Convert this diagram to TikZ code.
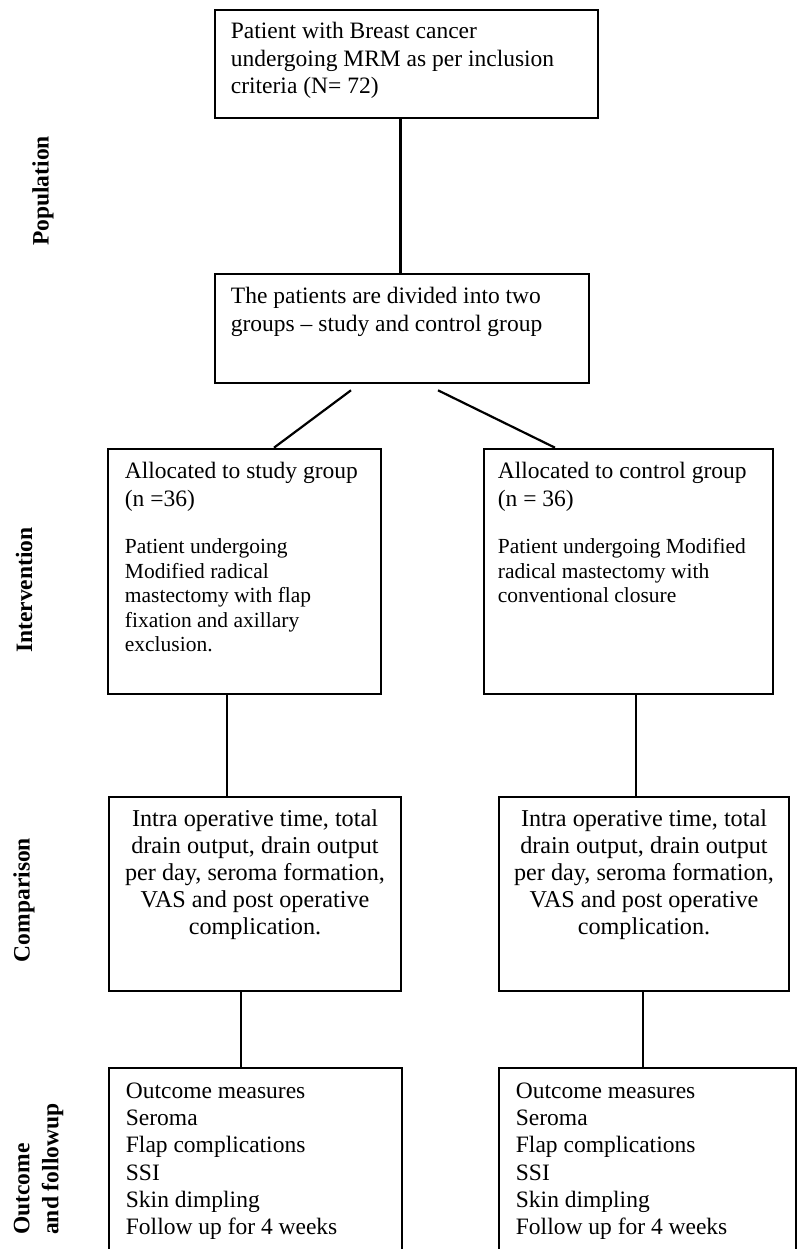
\documentclass[tikz,border=0pt]{standalone}
\usepackage{fontspec}
\setmainfont{Liberation Serif}
\tikzset{
	frame/.style={draw, line width=2.6pt, inner sep=0pt},
	link/.style={line width=2.2pt},
	txt/.style={anchor=base west, inner sep=0pt, align=left, font=\fontsize{23.5}{27.5}\selectfont},
	smalltxt/.style={txt, font=\fontsize{21.5}{24.5}\selectfont},
	side/.style={rotate=90, inner sep=0pt, align=left, font=\fontsize{23.5}{29}\selectfont\bfseries}
}
\begin{document}
\begin{tikzpicture}[x=1pt, y=-1pt]
\useasboundingbox (0,0) rectangle (798,1249);
\clip (0,0) rectangle (798,1249);
% side labels
\node[side] (lPop) at (43,191) {Population};
\node[side] (lInt) at (24,590) {Intervention};
\node[side] (lCmp) at (24,900) {Comparison};
\node[side, anchor=west] (lOut) at (38.5,1235) {Outcome\\and followup};
% boxes (text nodes sit on the baseline of their last line)
\node[frame, minimum width=383, minimum height=108] (top) at (406.5,64) {};
\node[txt] (topText) at ([shift={(17,85)}]top.north west) {Patient with Breast cancer\\undergoing MRM as per inclusion\\criteria (N= 72)};
\node[frame, minimum width=374, minimum height=109] (div) at (402,328.5) {};
\node[txt] (divText) at ([shift={(17,58.5)}]div.north west) {The patients are divided into two\\groups -- study and control group};
\node[frame, minimum width=273, minimum height=245] (study) at (244.5,571.5) {};
\node[txt] (studyHead) at ([shift={(18,58.5)}]study.north west) {Allocated to study group\\(n =36)};
\node[smalltxt] (studyBody) at ([shift={(18,204)}]study.north west) {Patient undergoing\\Modified radical\\mastectomy with flap\\fixation and axillary\\exclusion.};
\node[frame, minimum width=289, minimum height=245] (ctrl) at (628.5,571.5) {};
\node[txt] (ctrlHead) at ([shift={(15,58.5)}]ctrl.north west) {Allocated to control group\\(n = 36)};
\node[smalltxt] (ctrlBody) at ([shift={(15,155)}]ctrl.north west) {Patient undergoing Modified\\radical mastectomy with\\conventional closure};
\foreach \n/\x/\w in {A/255/292, B/644/290} {
	\node[frame, minimum width=\w, minimum height=194] (cmp\n) at (\x,894) {};
	\node[txt, anchor=base, align=center, font=\fontsize{24.2}{27}\selectfont] (cmpText\n) at ([yshift=-139]cmp\n.north) {Intra operative time, total\\drain output, drain output\\per day, seroma formation,\\VAS and post operative\\complication.};
}
\foreach \n/\x/\w in {A/255.5/293, B/647.5/297} {
	\node[frame, minimum width=\w, minimum height=222] (out\n) at (\x,1179) {};
	\node[txt, font=\fontsize{23.5}{27.3}\selectfont] (outText\n) at ([shift={(18,168)}]out\n.north west) {Outcome measures\\Seroma\\Flap complications\\SSI\\Skin dimpling\\Follow up for 4 weeks};
}
% connectors
\coordinate (t1) at ([xshift=-6]top.south);
\draw[link] (t1) -- (t1 |- div.north);
\coordinate (dl) at ([xshift=-51, yshift=-6]div.south);
\coordinate (dr) at ([xshift=36, yshift=-6]div.south);
\draw[link] (dl) -- ([xshift=29.5]study.north);
\draw[link] (dr) -- ([xshift=-73.5]ctrl.north);
\coordinate (s1) at ([xshift=-17.5]study.south);
\draw[link] (s1) -- (s1 |- cmpA.north);
\coordinate (c1) at ([xshift=7.5]ctrl.south);
\draw[link] (c1) -- (c1 |- cmpB.north);
\coordinate (a1) at ([xshift=-14]cmpA.south);
\draw[link] (a1) -- (a1 |- outA.north);
\coordinate (b1) at ([xshift=-1]cmpB.south);
\draw[link] (b1) -- (b1 |- outB.north);
\end{tikzpicture}
\end{document}
